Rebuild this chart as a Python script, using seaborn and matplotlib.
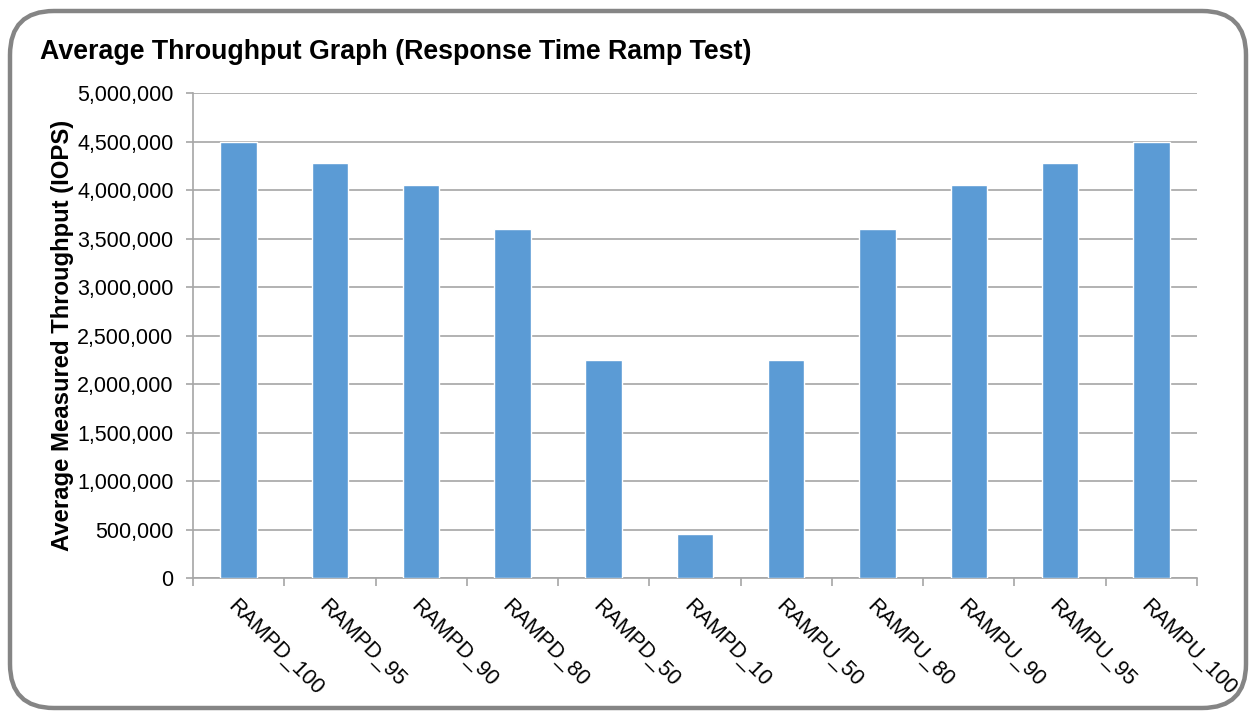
import matplotlib
matplotlib.use("Agg")
import matplotlib.pyplot as plt
import seaborn as sns
import pandas as pd
from matplotlib.patches import FancyBboxPatch
from matplotlib.ticker import FuncFormatter, MultipleLocator

categories = ["RAMPD_100", "RAMPD_95", "RAMPD_90", "RAMPD_80", "RAMPD_50", "RAMPD_10",
              "RAMPU_50", "RAMPU_80", "RAMPU_90", "RAMPU_95", "RAMPU_100"]
values = [4500000, 4275000, 4050000, 3600000, 2250000, 450000,
          2250000, 3600000, 4050000, 4275000, 4500000]

sns.set_theme(style="white")
plt.rcParams['font.family'] = ['Liberation Sans', 'DejaVu Sans']
plt.rcParams['text.color'] = 'black'
plt.rcParams['xtick.color'] = 'black'
plt.rcParams['ytick.color'] = 'black'
plt.rcParams['axes.labelcolor'] = 'black'

df = pd.DataFrame({"cat": categories, "val": values})

fig = plt.figure(figsize=(12.54, 7.11), dpi=100)
ax = fig.add_axes([0.1539, 0.187, 0.8006, 0.6822])

sns.barplot(data=df, x="cat", y="val", color="#5B9BD5", saturation=1, width=0.4, ax=ax, zorder=3)

ax.set_ylim(0, 5000000)
ax.set_xlim(-0.5, len(categories) - 0.5)
ax.yaxis.set_major_locator(MultipleLocator(500000))
ax.yaxis.set_major_formatter(FuncFormatter(lambda v, p: f"{int(v):,}"))
ax.grid(axis="y", color="#a6a6a6", linewidth=1.2, zorder=0)
ax.set_axisbelow(True)
for s in ["top", "right"]:
    ax.spines[s].set_visible(False)
for s in ["left", "bottom"]:
    ax.spines[s].set_color("#a6a6a6")
    ax.spines[s].set_linewidth(1.2)

ax.tick_params(axis="y", which="major", length=5, width=1.2, color="#a6a6a6",
               labelsize=15.5, pad=9, left=True, direction="out", labelcolor="black")
ax.set_xticks(range(len(categories)))
ax.set_xticklabels(categories, rotation=-45, ha="left", va="top", rotation_mode="anchor", fontsize=15.5)
ax.tick_params(axis="x", which="major", length=0, pad=13, labelcolor="black")
ax.set_xticks([i - 0.5 for i in range(len(categories) + 1)], minor=True)
ax.tick_params(axis="x", which="minor", length=6, width=1.2, color="#a6a6a6", bottom=True, direction="out")

ax.set_xlabel("")
ax.set_ylabel("Average Measured Throughput (IOPS)", fontsize=17.2, fontweight="bold",
              labelpad=2, color="black")

fig.text(40 / 1254, 1 - 52 / 711, "Average Throughput Graph (Response Time Ramp Test)",
         fontsize=19.3, fontweight="bold", va="center", ha="left", color="black")

frame = FancyBboxPatch((10 / 1254, 3 / 711), 1236 / 1254, 697 / 711,
                       boxstyle="round,pad=0,rounding_size=0.035",
                       transform=fig.transFigure, facecolor="none",
                       edgecolor="#858585", linewidth=3.2, mutation_aspect=1254 / 711)
fig.patches.append(frame)

fig.savefig("out.png", dpi=100, facecolor="white")
